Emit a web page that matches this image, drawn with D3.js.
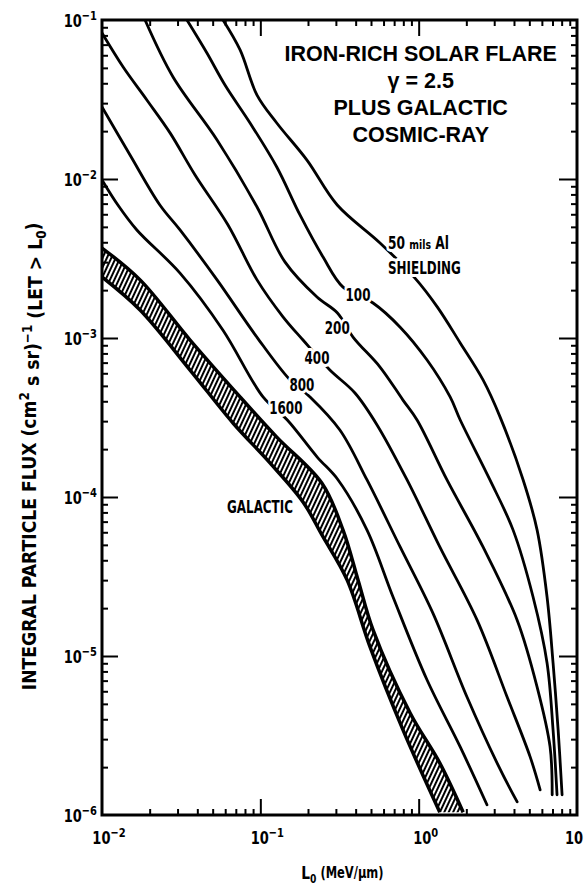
<!DOCTYPE html>
<html>
<head>
<meta charset="utf-8">
<script src="https://cdn.jsdelivr.net/npm/d3@7"></script>
<style>
  body { margin: 0; background: #fff; }
  text { font-family: "Liberation Sans Narrow", "DejaVu Sans Condensed", sans-serif; font-weight: bold; fill: #000; }
  .title { font-family: "Liberation Sans", Arial, sans-serif; }
</style>
</head>
<body>
<div id="chart"></div>
<script>
// ---- data: [LET (MeV/um), flux] ----
const xTicksMajor = [1e-2, 1e-1, 1, 10];
const xTickExp = ["\u22122", "\u22121", "0", ""];
const yTicksMajor = [1e-1, 1e-2, 1e-3, 1e-4, 1e-5, 1e-6];
const yTickExp = ["\u22121", "\u22122", "\u22123", "\u22124", "\u22125", "\u22126"];

const shield50 = [[0.0581,0.1],[0.0745,0.0648],[0.0953,0.0337],[0.127,0.0225],[0.197,0.01315],[0.306,0.00686],[0.570,0.00396],[0.948,0.00238],[1.31,0.00157],[1.83,0.000931],[2.55,0.000545],[3.27,0.000318],[4.57,0.000128],[5.60,6.19e-5],[6.47,2.35e-5],[7.06,9.04e-6],[7.60,3.43e-6],[8.05,1.34e-6]];
const shield100 = [[0.0344,0.1],[0.0460,0.0620],[0.0598,0.0390],[0.0861,0.0225],[0.127,0.0119],[0.178,0.00594],[0.249,0.00323],[0.333,0.00209],[0.515,0.00166],[0.764,0.00117],[1.13,0.000727],[1.58,0.000426],[1.83,0.000305],[2.82,0.000128],[3.95,6.19e-5],[5.28,2.35e-5],[6.47,9.04e-6],[7.06,3.43e-6],[7.48,1.34e-6]];
const shield200 = [[0.0187,0.1],[0.0281,0.0438],[0.0533,0.0176],[0.0953,0.00667],[0.143,0.00301],[0.228,0.00181],[0.306,0.00144],[0.386,0.00101],[0.570,0.000657],[0.796,0.000407],[0.977,0.000305],[1.51,0.000128],[2.55,4.85e-5],[4.19,1.68e-5],[5.60,6.38e-6],[6.76,2.68e-6],[6.97,1.34e-6]];
const shield400 = [[0.01,0.0828],[0.0136,0.0506],[0.0192,0.0314],[0.0269,0.0195],[0.0387,0.0106],[0.0625,0.00514],[0.0953,0.00232],[0.139,0.00136],[0.186,0.000971],[0.275,0.000629],[0.396,0.000451],[0.546,0.000284],[0.845,0.000128],[1.36,4.85e-5],[2.34,1.68e-5],[3.62,5.52e-6],[5.06,2.32e-6],[5.85,1.44e-6]];
const shield800 = [[0.01,0.0284],[0.0150,0.0142],[0.0232,0.00686],[0.0311,0.00478],[0.0533,0.00232],[0.0953,0.00101],[0.154,0.000545],[0.206,0.000426],[0.318,0.000264],[0.472,0.000128],[0.764,4.85e-5],[1.23,1.86e-5],[2.02,5.52e-6],[3.13,2.12e-6],[4.19,1.21e-6]];
const shield1600 = [[0.01,0.00986],[0.0126,0.00686],[0.0166,0.00478],[0.0311,0.00256],[0.0581,0.00112],[0.104,0.000426],[0.148,0.000305],[0.228,0.000179],[0.310,0.000128],[0.472,6.19e-5],[0.689,2.35e-5],[1.13,7.06e-6],[1.83,2.68e-6],[2.70,1.16e-6]];
const galacticUpper = [[0.01,0.00368],[0.0174,0.00232],[0.0360,0.000971],[0.0745,0.000426],[0.127,0.000238],[0.245,0.000122],[0.333,6.19e-5],[0.414,3.01e-5],[0.515,1.46e-5],[0.883,4.38e-6],[1.36,2.12e-6],[1.91,1.04e-6]];
const galacticLower = [[0.01,0.00242],[0.0174,0.00150],[0.0360,0.000629],[0.0672,0.000292],[0.115,0.000164],[0.186,9.31e-5],[0.245,5.77e-5],[0.353,3.01e-5],[0.493,1.14e-5],[0.796,3.43e-6],[1.36,1.04e-6]];

// curve labels: [text, LET, flux]
const curveLabels = [
  ["100", 0.414, 0.00186],
  ["200", 0.306, 0.00116],
  ["400", 0.228, 0.000748],
  ["800", 0.183, 0.000506],
  ["1600", 0.145, 0.000363]
];
const titleLines = ["IRON-RICH SOLAR FLARE", "\u03b3 = 2.5", "PLUS GALACTIC", "COSMIC-RAY"];

const config = {
  width: 586, height: 892,
  margin: { top: 20, right: 9, bottom: 77, left: 102 }
};
const W = config.width - config.margin.left - config.margin.right;
const H = config.height - config.margin.top - config.margin.bottom;

const svg = d3.select("#chart").append("svg")
  .attr("width", config.width).attr("height", config.height);

const x = d3.scaleLog().domain([1e-2, 10]).range([0, W]);
const y = d3.scaleLog().domain([1e-6, 1e-1]).range([H, 0]);

const defs = svg.append("defs");
defs.append("clipPath").attr("id", "plotClip")
  .append("rect").attr("width", W).attr("height", H);
defs.append("pattern")
  .attr("id", "hatch")
  .attr("patternUnits", "userSpaceOnUse")
  .attr("width", 4).attr("height", 4)
  .attr("patternTransform", "rotate(25)")
  .append("rect").attr("width", 2).attr("height", 4).attr("fill", "#000");

const chart = svg.append("g")
  .attr("transform", `translate(${config.margin.left},${config.margin.top})`);

// squeeze single-run text to a narrow face
function condense(sel, f) {
  sel.each(function () {
    const w = this.getComputedTextLength();
    d3.select(this).attr("textLength", w * f).attr("lengthAdjust", "spacingAndGlyphs");
  });
}

// minor tick values
const minorX = [], minorY = [];
[1e-2, 1e-1, 1].forEach(d => d3.range(2, 10).forEach(k => minorX.push(k * d)));
[1e-6, 1e-5, 1e-4, 1e-3, 1e-2].forEach(d => d3.range(2, 10).forEach(k => minorY.push(k * d)));
const innerX = xTicksMajor.slice(1, -1);
const innerY = yTicksMajor.slice(1, -1);

function tickAxis(axis, g) {
  g.call(axis).call(s => s.select(".domain").remove())
    .selectAll("line").attr("stroke", "#000").attr("stroke-width", 2);
}
const ticks = chart.append("g");
tickAxis(d3.axisLeft(y).tickValues(minorY).tickSize(-6).tickFormat(""), ticks.append("g"));
tickAxis(d3.axisLeft(y).tickValues(innerY).tickSize(-16).tickFormat(""), ticks.append("g"));
tickAxis(d3.axisRight(y).tickValues(minorY).tickSize(-6).tickFormat(""), ticks.append("g").attr("transform", `translate(${W},0)`));
tickAxis(d3.axisRight(y).tickValues(innerY).tickSize(-18).tickFormat(""), ticks.append("g").attr("transform", `translate(${W},0)`));
tickAxis(d3.axisBottom(x).tickValues(minorX).tickSize(-6).tickFormat(""), ticks.append("g").attr("transform", `translate(0,${H})`));
tickAxis(d3.axisBottom(x).tickValues(innerX).tickSize(-16).tickFormat(""), ticks.append("g").attr("transform", `translate(0,${H})`));
tickAxis(d3.axisTop(x).tickValues(minorX).tickSize(-6).tickFormat(""), ticks.append("g"));
tickAxis(d3.axisTop(x).tickValues(innerX).tickSize(-16).tickFormat(""), ticks.append("g"));

// data layer
const plot = chart.append("g").attr("clip-path", "url(#plotClip)");
const line = d3.line()
  .x(d => x(d[0])).y(d => y(d[1]))
  .curve(d3.curveCatmullRom.alpha(0.5));

const bandPath = line(galacticUpper) + "L" + line(galacticLower.slice().reverse()).slice(1) + "Z";
plot.append("path").attr("d", bandPath).attr("fill", "url(#hatch)").attr("stroke", "none");
[galacticUpper, galacticLower].forEach(edge => {
  plot.append("path").attr("d", line(edge))
    .attr("fill", "none").attr("stroke", "#000").attr("stroke-width", 3.5);
});

[shield50, shield100, shield200, shield400, shield800, shield1600].forEach(c => {
  plot.append("path").attr("d", line(c))
    .attr("fill", "none").attr("stroke", "#000").attr("stroke-width", 2.8)
    .attr("stroke-linecap", "round");
});

// curve labels with white halo breaking the line
function halo(sel) {
  return sel.attr("stroke", "#fff").attr("stroke-width", 6)
    .attr("paint-order", "stroke").attr("stroke-linejoin", "round");
}
chart.selectAll(".curve-label").data(curveLabels).join("text")
  .attr("class", "curve-label")
  .attr("x", d => x(d[1])).attr("y", d => y(d[2]))
  .attr("dy", "0.36em")
  .attr("text-anchor", "middle")
  .style("font-size", "17px")
  .text(d => d[0])
  .call(halo)
  .call(condense, 0.78);

const shieldLbl = chart.append("text")
  .attr("transform", `translate(${x(0.64)},${y(0.00396)}) scale(0.8,1)`)
  .attr("dy", "0.36em")
  .style("font-size", "17px")
  .call(halo);
shieldLbl.append("tspan").text("50 ");
shieldLbl.append("tspan").style("font-size", "13px").text("mils");
shieldLbl.append("tspan").text(" Al");
chart.append("text")
  .attr("x", x(0.64)).attr("y", y(0.00275))
  .attr("dy", "0.36em")
  .style("font-size", "17px")
  .text("SHIELDING")
  .call(halo)
  .call(condense, 0.78);

chart.append("text")
  .attr("x", x(0.0995)).attr("y", y(8.65e-5))
  .attr("dy", "0.36em")
  .attr("text-anchor", "middle")
  .style("font-size", "17px")
  .text("GALACTIC")
  .call(condense, 0.78);

// title block
chart.append("g").selectAll("text").data(titleLines).join("text")
  .attr("class", "title")
  .attr("x", x(1.03))
  .attr("y", (d, i) => 41 + i * 27)
  .attr("text-anchor", "middle")
  .style("font-size", "21.5px")
  .text(d => d);

// frame
chart.append("rect").attr("width", W).attr("height", H)
  .attr("fill", "none").attr("stroke", "#000").attr("stroke-width", 3);

// tick labels (power-of-ten with superscript), squeezed by a transform
const yl = chart.append("g").selectAll("text").data(yTicksMajor).join("text")
  .attr("transform", d => `translate(-5,${y(d)}) scale(0.85,1)`)
  .attr("dy", "0.4em")
  .attr("text-anchor", "end")
  .style("font-size", "17px");
yl.append("tspan").text("10");
yl.append("tspan").attr("dy", "-0.55em").style("font-size", "13px").text((d, i) => yTickExp[i]);

const xl = chart.append("g").selectAll("text").data(xTicksMajor).join("text")
  .attr("transform", (d, i) => `translate(${xTickExp[i] ? x(d) + 7 : W + 6},${H + 29}) scale(0.85,1)`)
  .attr("text-anchor", (d, i) => xTickExp[i] ? "middle" : "end")
  .style("font-size", "17px");
xl.append("tspan").text("10");
xl.append("tspan").attr("dy", "-0.55em").style("font-size", "13px").text((d, i) => xTickExp[i]);

// axis titles
const xt = chart.append("text")
  .attr("transform", `translate(${x(0.33)},${H + 64}) scale(0.85,1)`)
  .attr("text-anchor", "middle")
  .style("font-size", "18px");
xt.append("tspan").text("L");
xt.append("tspan").attr("dy", "0.3em").style("font-size", "12px").text("0");
xt.append("tspan").attr("dy", "-0.3em").style("font-size", "15px").text(" (MeV/\u03bcm)");

const yt = chart.append("text")
  .attr("text-anchor", "middle")
  .style("font-size", "20px");
yt.append("tspan").text("INTEGRAL PARTICLE FLUX (cm");
yt.append("tspan").attr("dy", "-0.5em").style("font-size", "14px").text("2");
yt.append("tspan").attr("dy", "0.5em").text(" s sr)");
yt.append("tspan").attr("dy", "-0.5em").style("font-size", "14px").text("\u22121");
yt.append("tspan").attr("dy", "0.5em").text(" (LET > L");
yt.append("tspan").attr("dy", "0.3em").style("font-size", "14px").text("0");
yt.append("tspan").attr("dy", "-0.3em").text(")");
const ytScale = 468 / yt.node().getComputedTextLength();
yt.attr("transform", `translate(${-config.margin.left + 36},${y(1.8e-4)}) rotate(-90) scale(${ytScale},1)`);
</script>
</body>
</html>
